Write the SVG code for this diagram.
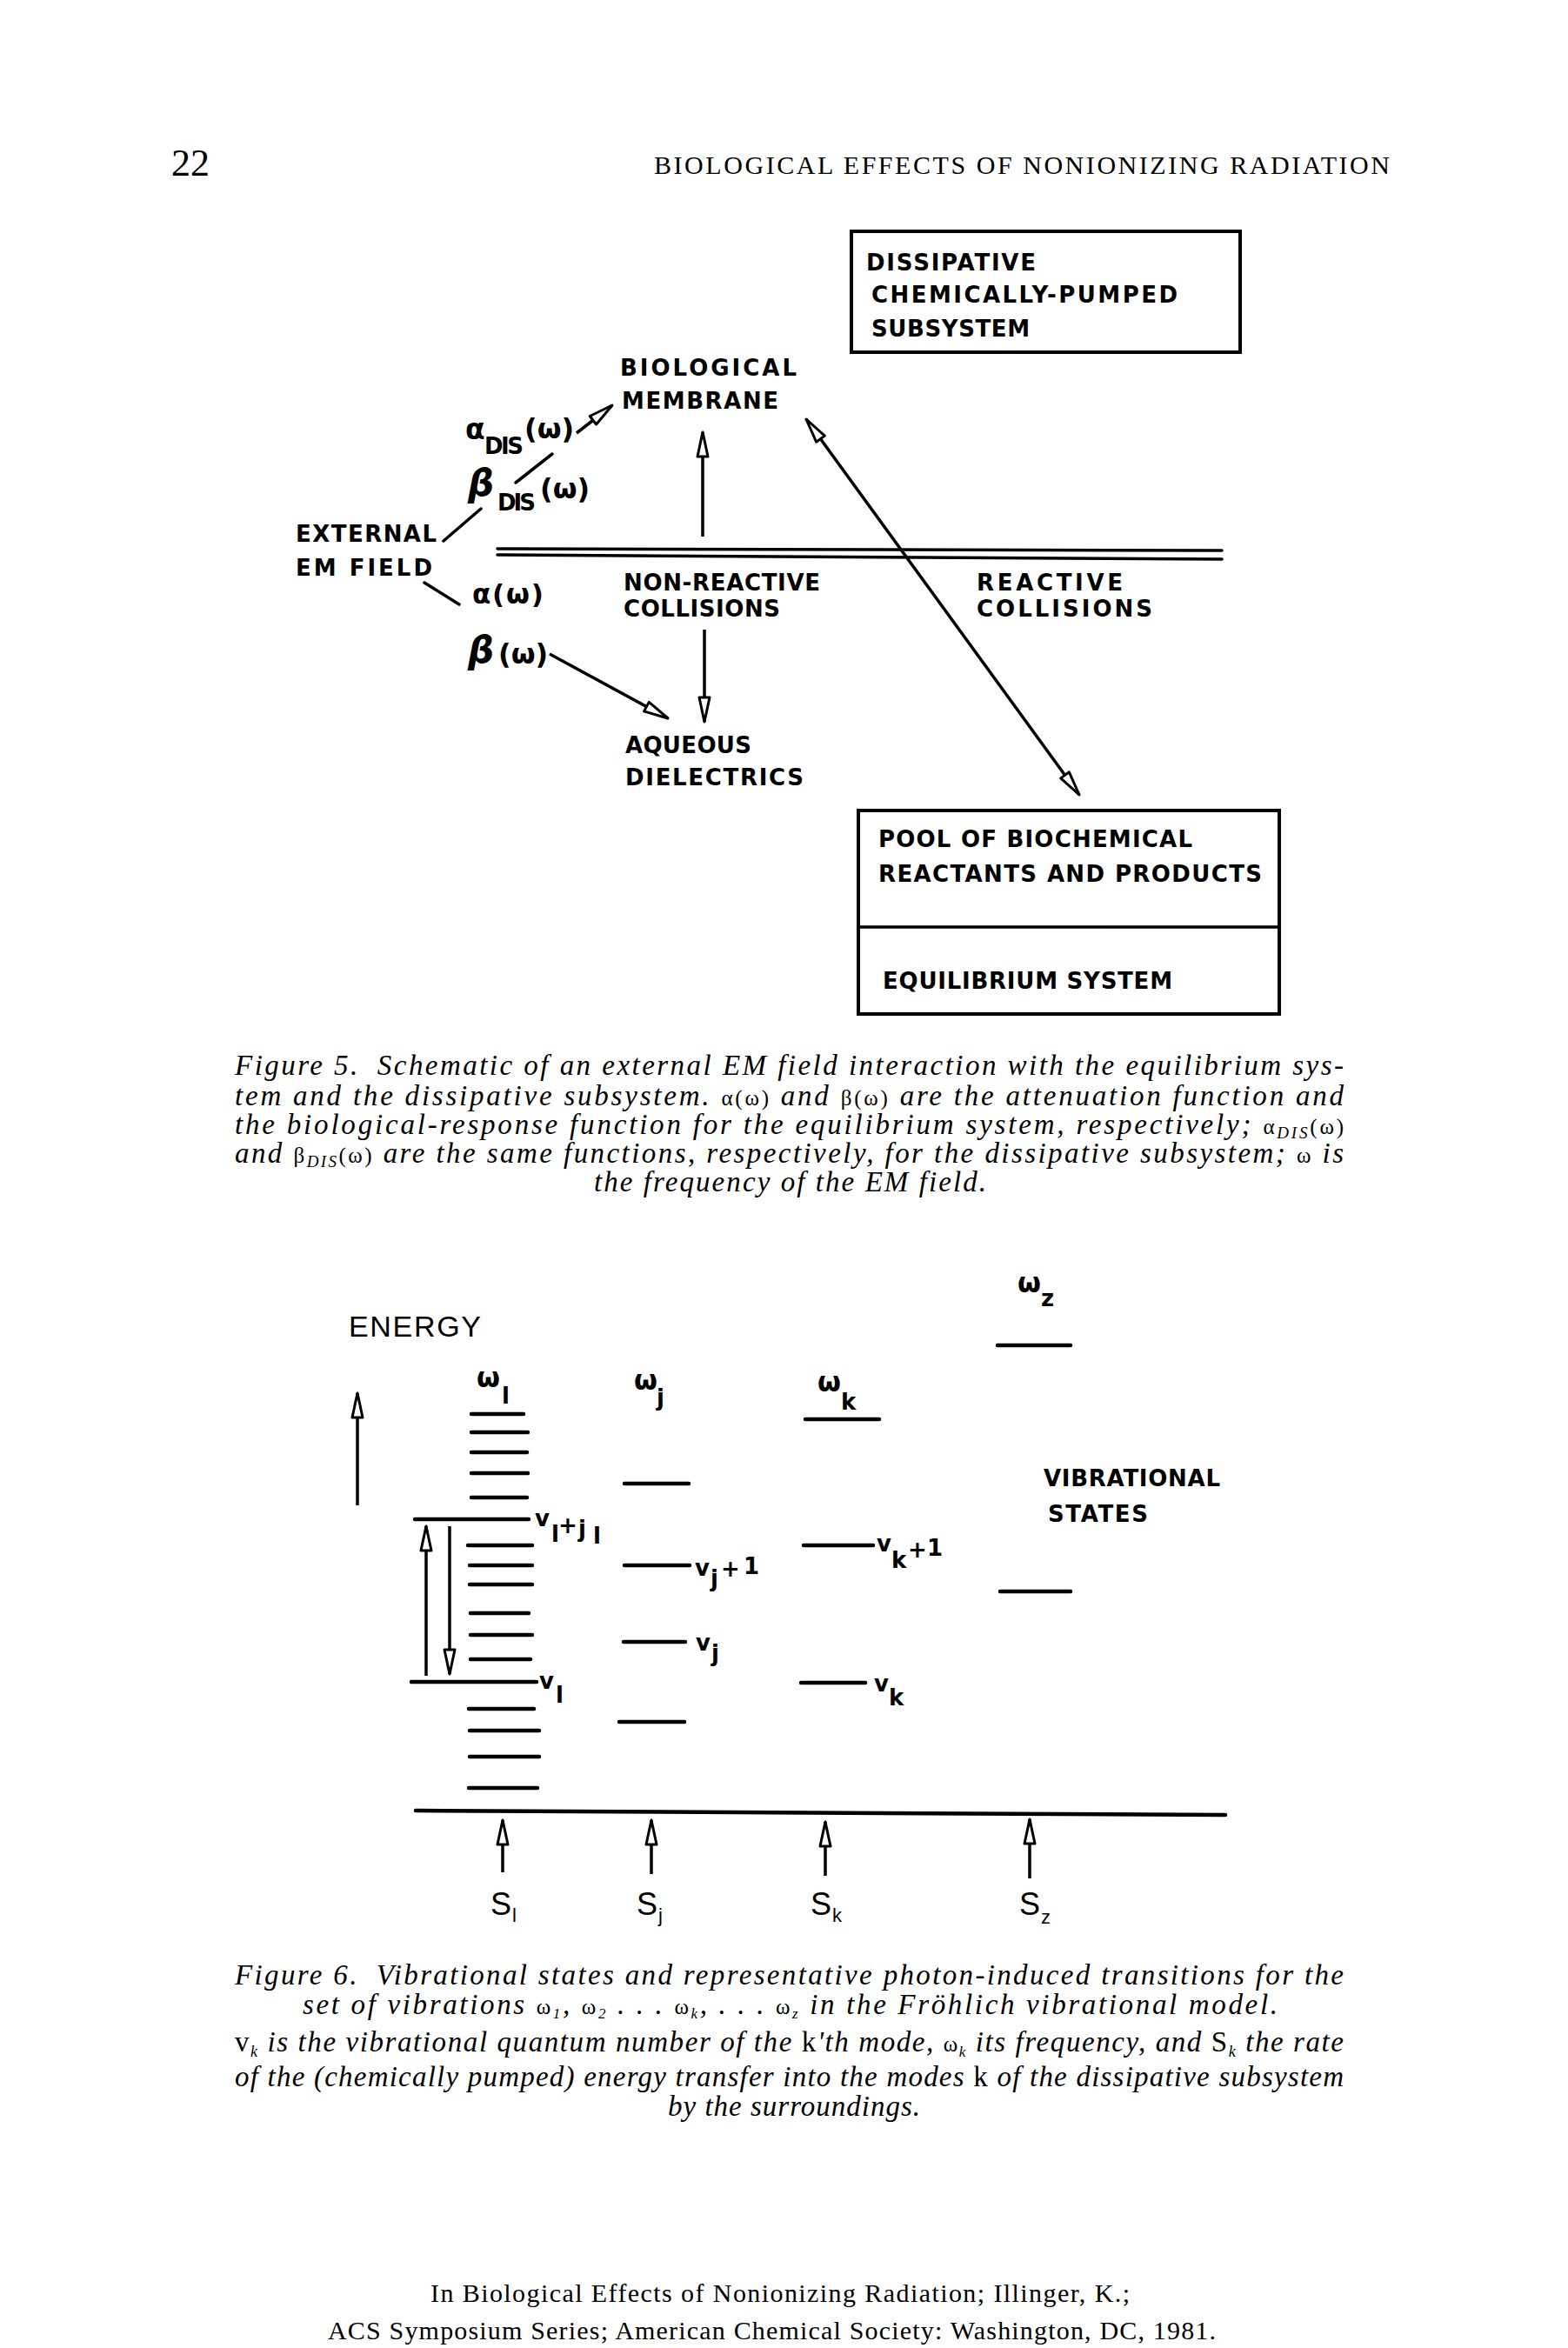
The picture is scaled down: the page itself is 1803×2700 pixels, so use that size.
<svg xmlns="http://www.w3.org/2000/svg" width="1803" height="2700" viewBox="0 0 1803 2700">
<defs>
<style>
.lab{font-family:"DejaVu Sans","Liberation Sans",sans-serif;font-weight:bold;font-size:26px;fill:#000}
.reg{font-family:"Liberation Sans",Arial,sans-serif;font-weight:normal;fill:#000}
.gr{font-family:"DejaVu Sans",sans-serif;font-weight:bold;fill:#000}
.box{fill:none;stroke:#000;stroke-width:4}
.ln{fill:none;stroke:#000;stroke-width:3.5;stroke-linecap:round}
.arr{fill:none;stroke:#000;stroke-width:3.5;stroke-linecap:butt;marker-end:url(#ah)}
.lvl{stroke:#000;stroke-width:4.5;stroke-linecap:round}
.cap{font-family:"Liberation Serif","Times New Roman",serif;font-style:italic;font-size:33px;fill:#000}
.up{font-style:normal;font-size:25px}
.ser{font-family:"Liberation Serif","Times New Roman",serif;fill:#000}
</style>
<marker id="ah" markerUnits="userSpaceOnUse" viewBox="-34 -10 38 20" refX="0" refY="0" markerWidth="38" markerHeight="20" orient="auto-start-reverse" overflow="visible">
<path d="M0,0 L-28,-6 L-28,6 Z" fill="#fff" stroke="#000" stroke-width="3" stroke-linejoin="round"/>
</marker>
</defs>
<rect width="1803" height="2700" fill="#fff"/>

<!-- page header -->
<g id="header">
<text class="ser" x="197" y="202" font-size="44">22</text>
<text class="ser" x="752" y="200" font-size="30" textLength="846" lengthAdjust="spacing">BIOLOGICAL EFFECTS OF NONIONIZING RADIATION</text>
</g>

<!-- ================= FIGURE 5 ================= -->
<g id="node-dissipative">
<rect class="box" x="979" y="266" width="447" height="139"/>
<text class="lab" x="996" y="311" font-size="23" textLength="195" lengthAdjust="spacing">DISSIPATIVE</text>
<text class="lab" x="1002" y="348" font-size="23" textLength="352" lengthAdjust="spacing">CHEMICALLY-PUMPED</text>
<text class="lab" x="1002" y="387" font-size="23" textLength="182" lengthAdjust="spacing">SUBSYSTEM</text>
</g>
<g id="node-membrane">
<text class="lab" x="713" y="432" textLength="203" lengthAdjust="spacing">BIOLOGICAL</text>
<text class="lab" x="715" y="470" textLength="180" lengthAdjust="spacing">MEMBRANE</text>
</g>
<g id="node-external">
<text class="lab" x="340" y="623" textLength="162" lengthAdjust="spacing">EXTERNAL</text>
<text class="lab" x="340" y="662" textLength="157" lengthAdjust="spacing">EM FIELD</text>
</g>
<g id="label-alpha-dis">
<text class="gr" x="535" y="505" font-size="33">α</text>
<text class="lab" x="557" y="522" font-size="23" textLength="45" lengthAdjust="spacing">DIS</text>
<text class="gr" x="603" y="504" font-size="32">(ω)</text>
</g>
<g id="label-beta-dis">
<text class="gr" x="538" y="570" font-size="42" font-style="italic">β</text>
<text class="lab" x="572" y="587" font-size="23" textLength="44" lengthAdjust="spacing">DIS</text>
<text class="gr" x="621" y="573" font-size="32">(ω)</text>
</g>
<g id="label-alpha">
<text class="gr" x="543" y="694" font-size="31" textLength="82" lengthAdjust="spacing">α(ω)</text>
</g>
<g id="label-beta">
<text class="gr" x="538" y="762" font-size="42" font-style="italic">β</text>
<text class="gr" x="573" y="763" font-size="32">(ω)</text>
</g>
<g id="node-nonreactive">
<text class="lab" x="717" y="679" textLength="226" lengthAdjust="spacing">NON-REACTIVE</text>
<text class="lab" x="717" y="709" textLength="180" lengthAdjust="spacing">COLLISIONS</text>
</g>
<g id="node-reactive">
<text class="lab" x="1123" y="679" textLength="168" lengthAdjust="spacing">REACTIVE</text>
<text class="lab" x="1123" y="709" textLength="202" lengthAdjust="spacing">COLLISIONS</text>
</g>
<g id="node-aqueous">
<text class="lab" x="719" y="866" textLength="145" lengthAdjust="spacing">AQUEOUS</text>
<text class="lab" x="719" y="903" textLength="205" lengthAdjust="spacing">DIELECTRICS</text>
</g>
<g id="node-pool">
<rect class="box" x="987" y="932" width="484" height="234"/>
<line class="ln" x1="987" y1="1066" x2="1471" y2="1066" stroke-width="4"/>
<text class="lab" x="1010" y="974" textLength="361" lengthAdjust="spacing">POOL OF BIOCHEMICAL</text>
<text class="lab" x="1010" y="1014" textLength="441" lengthAdjust="spacing">REACTANTS AND PRODUCTS</text>
<text class="lab" x="1015" y="1137" textLength="333" lengthAdjust="spacing">EQUILIBRIUM SYSTEM</text>
</g>
<g id="connectors-fig5">
<line class="ln" x1="510" y1="622" x2="553" y2="585"/>
<line class="ln" x1="593" y1="555" x2="635" y2="522"/>
<line class="arr" x1="663" y1="498" x2="704" y2="466"/>
<line class="ln" x1="488" y1="670" x2="528" y2="695"/>
<line class="arr" x1="632" y1="752" x2="768" y2="826"/>
<line class="arr" x1="808" y1="617" x2="808" y2="497"/>
<line class="arr" x1="810" y1="724" x2="810" y2="830"/>
<line class="arr" x1="927" y1="482" x2="1241" y2="914" marker-start="url(#ah)"/>
<line class="ln" x1="572" y1="631" x2="1405" y2="633" stroke-width="3"/>
<line class="ln" x1="572" y1="638" x2="1405" y2="643" stroke-width="3"/>
</g>

<!-- Figure 5 caption -->
<g id="caption-fig5" class="cap">
<text x="270" y="1236" textLength="1275" lengthAdjust="spacing">Figure 5.<tspan dx="20">Schematic of an external EM field interaction with the equilibrium sys-</tspan></text>
<text x="270" y="1271" textLength="1275" lengthAdjust="spacing">tem and the dissipative subsystem. <tspan class="up">α(ω)</tspan> and <tspan class="up">β(ω)</tspan> are the attenuation function and</text>
<text x="270" y="1304" textLength="1275" lengthAdjust="spacing">the biological-response function for the equilibrium system, respectively; <tspan class="up">α</tspan><tspan font-size="19" dy="5">DIS</tspan><tspan class="up" dy="-5">(ω)</tspan></text>
<text x="270" y="1337" textLength="1275" lengthAdjust="spacing">and <tspan class="up">β</tspan><tspan font-size="19" dy="5">DIS</tspan><tspan class="up" dy="-5">(ω)</tspan> are the same functions, respectively, for the dissipative subsystem; <tspan class="up">ω</tspan> is</text>
<text x="683" y="1370" textLength="451" lengthAdjust="spacing">the frequency of the EM field.</text>
</g>

<!-- ================= FIGURE 6 ================= -->
<g id="label-energy">
<text class="reg" x="401" y="1537" font-size="34" textLength="152" lengthAdjust="spacing">ENERGY</text>
<line class="arr" x1="411" y1="1731" x2="411" y2="1602"/>
</g>
<g id="label-vibrational">
<text class="lab" x="1200" y="1709" font-size="28" textLength="203" lengthAdjust="spacing">VIBRATIONAL</text>
<text class="lab" x="1205" y="1750" font-size="28" textLength="115" lengthAdjust="spacing">STATES</text>
</g>
<g id="mode-l">
<text class="gr" x="548" y="1595" font-size="31">ω</text>
<text class="lab" x="577" y="1614" font-size="22">l</text>
<line class="lvl" x1="542" y1="1626" x2="602" y2="1626"/>
<line class="lvl" x1="542" y1="1647" x2="607" y2="1647"/>
<line class="lvl" x1="542" y1="1670" x2="606" y2="1670"/>
<line class="lvl" x1="542" y1="1694" x2="607" y2="1694"/>
<line class="lvl" x1="542" y1="1722" x2="606" y2="1722"/>
<line class="lvl" x1="477" y1="1747" x2="608" y2="1747"/>
<line class="lvl" x1="538" y1="1777" x2="612" y2="1777"/>
<line class="lvl" x1="540" y1="1800" x2="612" y2="1800"/>
<line class="lvl" x1="540" y1="1822" x2="612" y2="1822"/>
<line class="lvl" x1="541" y1="1855" x2="608" y2="1855"/>
<line class="lvl" x1="541" y1="1880" x2="612" y2="1880"/>
<line class="lvl" x1="541" y1="1908" x2="610" y2="1908"/>
<line class="lvl" x1="473" y1="1934" x2="617" y2="1934"/>
<line class="lvl" x1="539" y1="1965" x2="614" y2="1965"/>
<line class="lvl" x1="540" y1="1990" x2="620" y2="1990"/>
<line class="lvl" x1="540" y1="2020" x2="620" y2="2020"/>
<line class="lvl" x1="539" y1="2056" x2="618" y2="2056"/>
<text class="lab" x="615" y="1755" font-size="26">v</text>
<text class="lab" x="634" y="1773" font-size="22">l</text>
<text class="lab" x="642" y="1763" font-size="26">+</text>
<text class="lab" x="665" y="1767" font-size="26">j</text>
<text class="lab" x="682" y="1775" font-size="22">l</text>
<text class="lab" x="620" y="1942" font-size="26">v</text>
<text class="lab" x="639" y="1958" font-size="22">l</text>
</g>
<g id="mode-j">
<text class="gr" x="729" y="1598" font-size="31">ω</text>
<text class="lab" x="755" y="1616" font-size="22">j</text>
<line class="lvl" x1="718" y1="1706" x2="792" y2="1706"/>
<line class="lvl" x1="718" y1="1800" x2="793" y2="1800"/>
<line class="lvl" x1="717" y1="1888" x2="788" y2="1888"/>
<line class="lvl" x1="712" y1="1980" x2="787" y2="1980"/>
<text class="lab" x="799" y="1812" font-size="26">v</text>
<text class="lab" x="817" y="1824" font-size="22">j</text>
<text class="lab" x="829" y="1813" font-size="26">+</text>
<text class="lab" x="855" y="1810" font-size="24">1</text>
<text class="lab" x="800" y="1898" font-size="26">v</text>
<text class="lab" x="818" y="1910" font-size="22">j</text>
</g>
<g id="mode-k">
<text class="gr" x="940" y="1600" font-size="31">ω</text>
<text class="lab" x="967" y="1621" font-size="22">k</text>
<line class="lvl" x1="926" y1="1632" x2="1011" y2="1632"/>
<line class="lvl" x1="924" y1="1777" x2="1004" y2="1777"/>
<line class="lvl" x1="921" y1="1935" x2="995" y2="1935"/>
<text class="lab" x="1008" y="1784" font-size="23">v</text>
<text class="lab" x="1025" y="1803" font-size="22">k</text>
<text class="lab" x="1044" y="1791" font-size="25">+</text>
<text class="lab" x="1066" y="1789" font-size="22">1</text>
<text class="lab" x="1005" y="1945" font-size="23">v</text>
<text class="lab" x="1022" y="1961" font-size="22">k</text>
</g>
<g id="mode-z">
<text class="gr" x="1170" y="1486" font-size="31">ω</text>
<text class="lab" x="1197" y="1502" font-size="22">z</text>
<line class="lvl" x1="1147" y1="1547" x2="1231" y2="1547"/>
<line class="lvl" x1="1150" y1="1830" x2="1231" y2="1830"/>
</g>
<g id="connectors-fig6">
<line class="arr" x1="490" y1="1927" x2="490" y2="1755"/>
<line class="arr" x1="517" y1="1755" x2="517" y2="1925"/>
<line class="lvl" x1="478" y1="2082" x2="1409" y2="2087" stroke-width="4"/>
<line class="arr" x1="578" y1="2153" x2="578" y2="2093"/>
<line class="arr" x1="749" y1="2155" x2="749" y2="2093"/>
<line class="arr" x1="949" y1="2157" x2="949" y2="2095"/>
<line class="arr" x1="1184" y1="2160" x2="1184" y2="2092"/>
</g>
<g id="labels-s">
<text class="reg" x="564" y="2202" font-size="36">S</text>
<text class="reg" x="589" y="2210" font-size="22">l</text>
<text class="reg" x="732" y="2202" font-size="36">S</text>
<text class="reg" x="757" y="2210" font-size="22">j</text>
<text class="reg" x="932" y="2202" font-size="36">S</text>
<text class="reg" x="957" y="2210" font-size="22">k</text>
<text class="reg" x="1172" y="2202" font-size="36">S</text>
<text class="reg" x="1197" y="2212" font-size="22">z</text>
</g>

<!-- Figure 6 caption -->
<g id="caption-fig6" class="cap">
<text x="270" y="2282" textLength="1275" lengthAdjust="spacing">Figure 6.<tspan dx="20">Vibrational states and representative photon-induced transitions for the</tspan></text>
<text x="348" y="2316" textLength="1121" lengthAdjust="spacing">set of vibrations <tspan class="up">ω</tspan><tspan font-size="17" dy="5">1</tspan><tspan dy="-5">, </tspan><tspan class="up">ω</tspan><tspan font-size="17" dy="5">2</tspan><tspan dy="-5"> . . . </tspan><tspan class="up">ω</tspan><tspan font-size="17" dy="5">k</tspan><tspan dy="-5">, . . . </tspan><tspan class="up">ω</tspan><tspan font-size="17" dy="5">z</tspan><tspan dy="-5"> in the Fröhlich vibrational model.</tspan></text>
<text x="270" y="2359" textLength="1275" lengthAdjust="spacing"><tspan font-style="normal">v</tspan><tspan font-size="18" dy="6">k</tspan><tspan dy="-6"> is the vibrational quantum number of the </tspan><tspan font-style="normal">k</tspan>'th mode, <tspan class="up">ω</tspan><tspan font-size="17" dy="6">k</tspan><tspan dy="-6"> its frequency, and </tspan><tspan font-style="normal">S</tspan><tspan font-size="18" dy="6">k</tspan><tspan dy="-6"> the rate</tspan></text>
<text x="270" y="2399" textLength="1275" lengthAdjust="spacing">of the (chemically pumped) energy transfer into the modes <tspan font-style="normal">k</tspan> of the dissipative subsystem</text>
<text x="768" y="2433" textLength="290" lengthAdjust="spacing">by the surroundings.</text>
</g>

<!-- footer -->
<g id="footer">
<text class="ser" x="495" y="2647" font-size="30" textLength="804" lengthAdjust="spacing">In Biological Effects of Nonionizing Radiation; Illinger, K.;</text>
<text class="ser" x="377" y="2690" font-size="30" textLength="1021" lengthAdjust="spacing">ACS Symposium Series; American Chemical Society: Washington, DC, 1981.</text>
</g>
</svg>
